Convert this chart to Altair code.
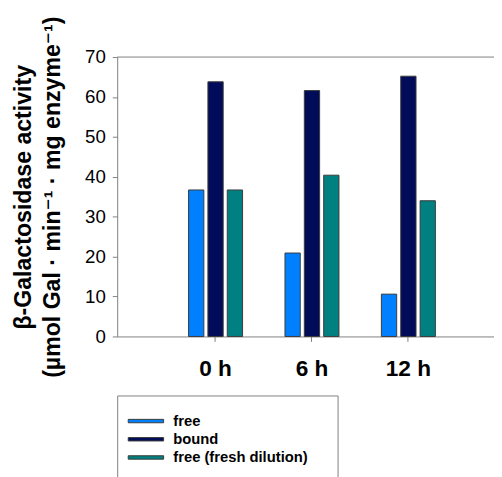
import altair as alt
import pandas as pd

times = ["0 h", "6 h", "12 h"]
series = ["free", "bound", "free (fresh dilution)"]
free = [36.7, 20.9, 10.6]
bound = [63.8, 61.6, 65.2]
fresh = [36.7, 40.4, 34.0]
colors = ["#0080FF", "#000C5A", "#008080"]
y_ticks = [0, 10, 20, 30, 40, 50, 60, 70]

rows = []
for s, vals in zip(series, [free, bound, fresh]):
    for t, v in zip(times, vals):
        rows.append({"time": t, "series": s, "value": v})
df = pd.DataFrame(rows)

FONT = "Liberation Sans, Arial, DejaVu Sans"
GREY = "#808080"

bars = alt.Chart(df).mark_bar(stroke="#3a3a3a", strokeWidth=1).encode(
    x=alt.X(
        "time:N",
        sort=times,
        scale=alt.Scale(paddingInner=0.44, paddingOuter=0.674, align=0.549),
        axis=alt.Axis(
            title=None, labelAngle=0, labelFont=FONT, labelFontSize=23,
            labelFontWeight="bold", labelColor="black", labelPadding=17,
            tickSize=5, tickColor=GREY, domainColor=GREY,
        ),
    ),
    xOffset=alt.XOffset("series:N", sort=series, scale=alt.Scale(paddingInner=0.21)),
    y=alt.Y(
        "value:Q",
        scale=alt.Scale(domain=[0, 70], nice=False),
        axis=alt.Axis(
            values=y_ticks, grid=False,
            title=["β-Galactosidase activity", "(µmol Gal · min⁻¹ · mg enzyme⁻¹)"],
            titleFont=FONT, titleFontSize=23.5, titleFontWeight="bold", titleColor="black",
            titleLineHeight=29, titleX=-83,
            labelFont=FONT, labelFontSize=19, labelColor="black", labelPadding=7,
            tickSize=5, tickColor=GREY, domainColor=GREY,
        ),
    ),
    color=alt.Color(
        "series:N",
        sort=series,
        scale=alt.Scale(domain=series, range=colors),
        legend=alt.Legend(
            title="_" * 88, titleFont=FONT, titleFontSize=4, titlePadding=0,
            titleLimit=1000, titleColor="rgba(0,0,0,0)",
            orient="none", legendX=0, legendY=344, padding=14,
            strokeColor=GREY, fillColor="white",
            symbolType="M-1.5,-0.24L3.5,-0.24L3.5,0.24L-1.5,0.24Z", symbolSize=207,
            symbolStrokeColor="#3a3a3a", symbolStrokeWidth=1, symbolOpacity=1,
            labelFont=FONT, labelFontSize=15, labelFontWeight="bold",
            labelColor="black", labelOffset=27, rowPadding=2.5,
        ),
    ),
)

top_line = alt.Chart(pd.DataFrame({"k": [0]})).mark_rule(color=GREY, strokeWidth=1).encode(
    x=alt.value(0), x2=alt.value(400), y=alt.value(0)
)

chart = alt.layer(bars, top_line).properties(
    width=383, height=284,
    autosize=alt.AutoSizeParams(type="none"),
    padding={"left": 111, "top": 46, "right": 0, "bottom": 139},
).configure_view(stroke=None)

chart.save("out.html", embed_options={"renderer": "svg", "actions": False})
